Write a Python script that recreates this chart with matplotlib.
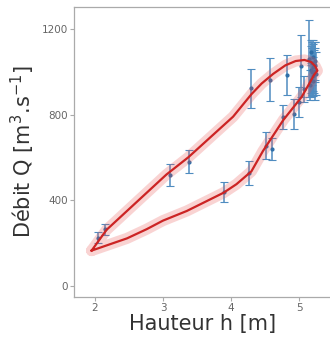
import numpy as np
import matplotlib
matplotlib.use("Agg")
import matplotlib.pyplot as plt

# Courbe de tarage (boucle d'hysteresis) : montee puis descente
h_line = [1.95, 2.47, 2.76, 3.00, 3.35, 3.89, 4.08, 4.30, 4.47, 4.77, 5.04, 5.16, 5.22, 5.27,
          5.24, 5.18, 5.08, 4.95, 4.80, 4.62, 4.45, 4.30, 4.03, 3.37, 3.05, 2.17, 1.95]
q_line = [165, 222, 265, 305, 350, 435, 475, 535, 630, 775, 883, 950, 985, 1005,
          1025, 1045, 1055, 1050, 1030, 990, 945, 895, 790, 600, 520, 262, 165]

# Jaugeages avec incertitudes
h_obs = [2.05, 2.15, 3.10, 3.38, 4.30, 4.58, 4.83, 5.03, 5.15,
         3.89, 4.27, 4.52, 4.60, 4.76, 4.93, 5.00, 5.08,
         5.17, 5.19, 5.20, 5.21, 5.22, 5.18, 5.23, 5.24, 5.20, 5.16, 5.25,
         5.18, 5.21, 5.23, 5.19]
q_obs = [225, 265, 518, 580, 922, 962, 985, 1027, 1060,
         440, 526, 655, 640, 790, 805, 860, 920,
         1010, 1040, 980, 1020, 1000, 960, 1050, 1004, 1070, 940, 990,
         1090, 955, 1030, 1000]
q_err = [25, 25, 50, 55, 93, 100, 95, 145, 180,
         47, 55, 62, 50, 55, 70, 70, 60,
         110, 100, 90, 110, 100, 80, 90, 135, 80, 70, 100,
         60, 70, 80, 110]

fig = plt.figure(figsize=(3.30, 3.42), dpi=100)
ax = fig.add_axes([0.224, 0.132, 0.78, 0.848])

ax.errorbar(h_obs, q_obs, yerr=q_err, fmt="o", ms=2, color="#2f6fa8",
            ecolor="#4f8cc0", elinewidth=1.1, capsize=2.8, capthick=0.8, zorder=2)

# bande d'incertitude + courbe
ax.plot(h_line, q_line, color="#e8504f", lw=8, alpha=0.25,
        solid_capstyle="round", solid_joinstyle="round", zorder=3)
ax.plot(h_line, q_line, color="#cc2424", lw=1.6,
        solid_joinstyle="round", zorder=4)

ax.set_xlim(1.69, 5.475)
ax.set_ylim(-51, 1303)
ax.set_xticks([2, 3, 4, 5])
ax.set_yticks([0, 400, 800, 1200])

for s in ["left", "bottom", "top"]:
    ax.spines[s].set_color("#aaaaaa")
    ax.spines[s].set_linewidth(0.9)
ax.spines["right"].set_visible(False)
ax.tick_params(direction="out", length=3, width=0.8, color="#aaaaaa",
               labelsize=7.5, labelcolor="#666666", pad=1.5)

ax.set_xlabel("Hauteur h [m]", fontsize=15, color="#333333", labelpad=1)
ax.set_ylabel(r"Débit Q [m$^{3}$.s$^{-1}$]", fontsize=15, color="#333333", labelpad=3)

fig.savefig("out.png", dpi=100)
